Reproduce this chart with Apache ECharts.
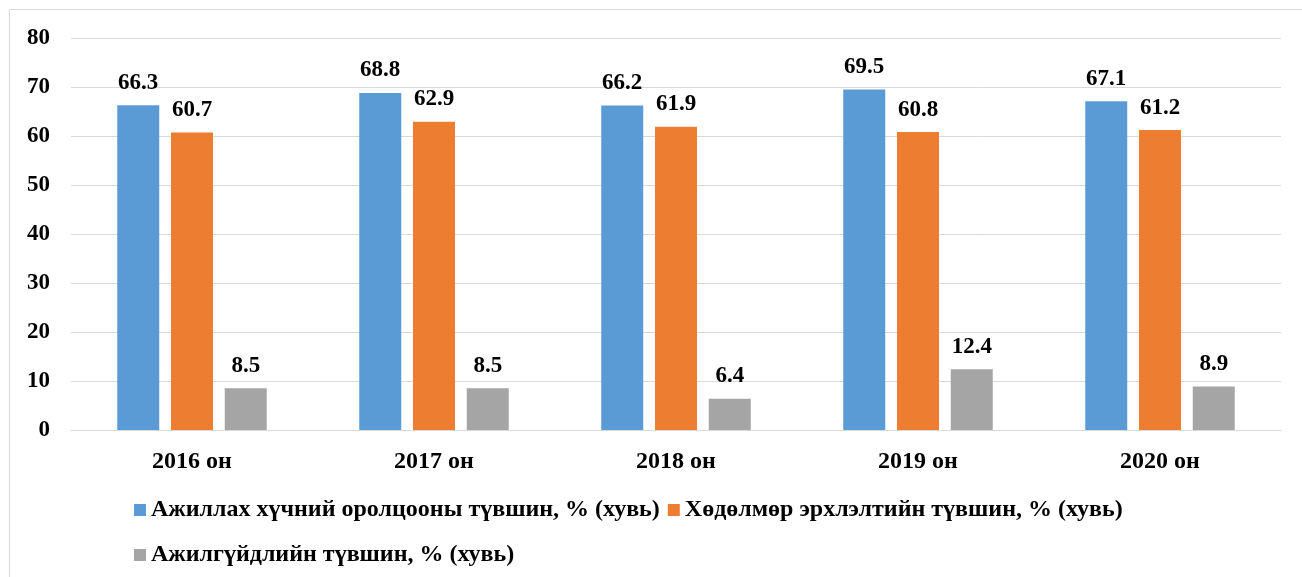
<!DOCTYPE html>
<html>
<head>
<meta charset="utf-8">
<script src="https://cdn.jsdelivr.net/npm/echarts@6/dist/echarts.min.js"></script>
<style>
  html, body { margin: 0; padding: 0; background: #fff; }
  #main { width: 1302px; height: 577px; }
</style>
</head>
<body>
<div id="main"></div>
<script>
// data
const categories = ["2016 он", "2017 он", "2018 он", "2019 он", "2020 он"];
const participation = [66.3, 68.8, 66.2, 69.5, 67.1];
const employment = [60.7, 62.9, 61.9, 60.8, 61.2];
const unemployment = [8.5, 8.5, 6.4, 12.4, 8.9];
const seriesNames = [
  "Ажиллах хүчний оролцооны түвшин, % (хувь)",
  "Хөдөлмөр эрхлэлтийн түвшин, % (хувь)",
  "Ажилгүйдлийн түвшин, % (хувь)"
];
const yTicks = { min: 0, max: 80, interval: 10 };

const font = "'Liberation Serif', 'Times New Roman', serif";
const colors = ["#5b9bd5", "#ed7d31", "#a5a5a5"];

function barSeries(name, data, color) {
  return {
    name: name,
    type: "bar",
    data: data,
    barWidth: 42,
    barGap: "28%",
    itemStyle: { color: color },
    label: {
      show: true,
      position: "top",
      distance: 11,
      fontFamily: font,
      fontWeight: "bold",
      fontSize: 23,
      color: "#000"
    }
  };
}

const legendBase = {
  orient: "horizontal",
  left: 134,
  padding: 0,
  itemWidth: 12,
  itemHeight: 12,
  itemGap: 8,
  icon: "rect",
  textStyle: { fontFamily: font, fontWeight: "bold", fontSize: 24, color: "#000" }
};

const chart = echarts.init(document.getElementById("main"));
chart.setOption({
  animation: false,
  color: colors,
  graphic: [{
    type: "rect",
    shape: { x: 9.5, y: 9.5, width: 1300, height: 580 },
    style: { fill: "none", stroke: "#d9d9d9", lineWidth: 1 },
    silent: true
  }],
  grid: { left: 71, right: 21, top: 38, bottom: 147 },
  legend: [
    Object.assign({}, legendBase, { top: 498, data: [seriesNames[0], seriesNames[1]] }),
    Object.assign({}, legendBase, { top: 543, data: [seriesNames[2]] })
  ],
  xAxis: {
    type: "category",
    data: categories,
    axisLine: { lineStyle: { color: "#d9d9d9", width: 1 } },
    axisTick: { show: false },
    axisLabel: { margin: 20, fontFamily: font, fontWeight: "bold", fontSize: 24, color: "#000" }
  },
  yAxis: {
    type: "value",
    min: yTicks.min,
    max: yTicks.max,
    interval: yTicks.interval,
    axisLine: { show: false },
    axisTick: { show: false },
    splitLine: { lineStyle: { color: "#d9d9d9", width: 1 } },
    axisLabel: { margin: 21, fontFamily: font, fontWeight: "bold", fontSize: 23, color: "#000" }
  },
  series: [
    barSeries(seriesNames[0], participation, colors[0]),
    barSeries(seriesNames[1], employment, colors[1]),
    barSeries(seriesNames[2], unemployment, colors[2])
  ]
});
</script>
</body>
</html>
